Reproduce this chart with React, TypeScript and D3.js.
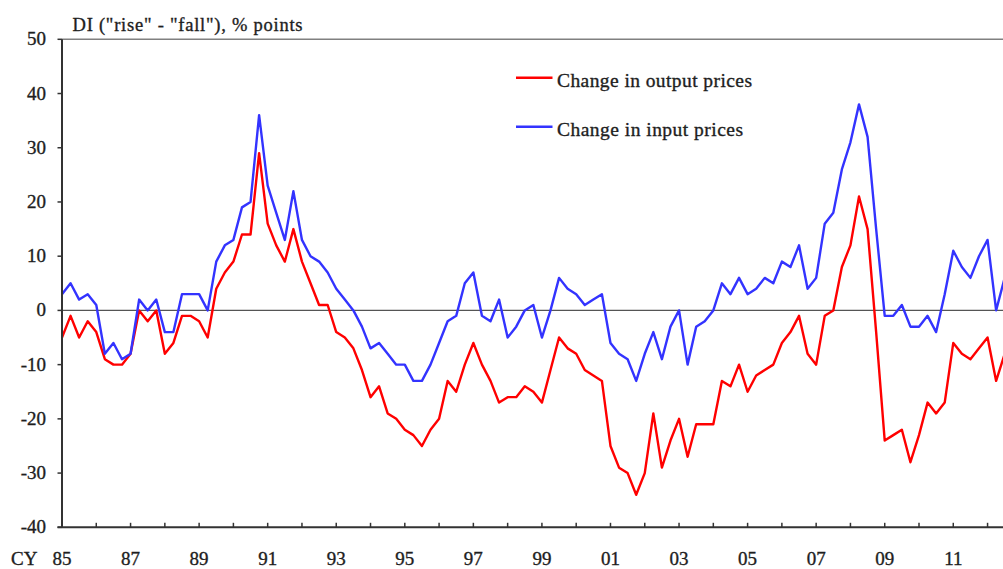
import React from "react";
import * as d3 from "d3";

// Quarterly DI values, starting 1985 Q1
const startYear = 1985;
const outputPrices: number[] = [
  -5, -1, -5, -2, -4, -9, -10, -10, -8, 0, -2, 0, -8, -6, -1, -1, -2, -5, 4, 7,
  9, 14, 14, 29, 16, 12, 9, 15, 9, 5, 1, 1, -4, -5, -7, -11, -16, -14, -19, -20,
  -22, -23, -25, -22, -20, -13, -15, -10, -6, -10, -13, -17, -16, -16, -14, -15, -17, -11, -5, -7,
  -8, -11, -12, -13, -25, -29, -30, -34, -30, -19, -29, -24, -20, -27, -21, -21, -21, -13, -14, -10,
  -15, -12, -11, -10, -6, -4, -1, -8, -10, -1, 0, 8, 12, 21, 15, -4, -24, -23, -22, -28,
  -23, -17, -19, -17, -6, -8, -9, -7, -5, -13, -8,
];
const inputPrices: number[] = [
  3, 5, 2, 3, 1, -8, -6, -9, -8, 2, 0, 2, -4, -4, 3, 3, 3, 0, 9, 12,
  13, 19, 20, 36, 23, 18, 13, 22, 13, 10, 9, 7, 4, 2, 0, -3, -7, -6, -8, -10,
  -10, -13, -13, -10, -6, -2, -1, 5, 7, -1, -2, 2, -5, -3, 0, 1, -5, 0, 6, 4,
  3, 1, 2, 3, -6, -8, -9, -13, -8, -4, -9, -3, 0, -10, -3, -2, 0, 5, 3, 6,
  3, 4, 6, 5, 9, 8, 12, 4, 6, 16, 18, 26, 31, 38, 32, 15, -1, -1, 1, -3,
  -3, -1, -4, 3, 11, 8, 6, 10, 13, 0, 6,
];
const yTicks: number[] = [50, 40, 30, 20, 10, 0, -10, -20, -30, -40];
const xLabelYears: number[] = [1985, 1987, 1989, 1991, 1993, 1995, 1997, 1999, 2001, 2003, 2005, 2007, 2009, 2011];
const seriesNames: string[] = ["Change in output prices", "Change in input prices"];
const seriesColors: string[] = ["#ff0000", "#3333ff"];
const titleText = 'DI ("rise" - "fall"), % points';

const W = 1003;
const H = 569;
const left = 62;
const top = 39.3;
const bottom = 527.3;
const quarterPx = 8.57;

export default function App() {
  const x = d3
    .scaleLinear()
    .domain([startYear, startYear + 110 / 4])
    .range([left, left + quarterPx * 110]);
  const y = d3.scaleLinear().domain([-40, 50]).range([bottom, top]);
  const tAt = (i: number) => startYear + i / 4;
  const line = d3
    .line<number>()
    .x((_, i) => x(tAt(i)))
    .y((d) => y(d));
  const years = d3.range(startYear, 2013);
  const font = '"Liberation Serif", "Times New Roman", serif';
  const textColor = "#1e1e1e";
  const series = [outputPrices, inputPrices];
  const textStroke = { stroke: textColor, strokeWidth: 0.35 };

  return (
    <svg
      width={W}
      height={H}
      style={{ position: "absolute", left: 0, top: 0, background: "#fff" }}
      fontFamily={font}
    >
      <defs>
        <clipPath id="plotClip">
          <rect x={left} y={top - 5} width={W - left} height={bottom - top + 10} />
        </clipPath>
      </defs>
      <rect x={0} y={0} width={W} height={H} fill="#fff" />
      {/* top border */}
      <line x1={left} x2={W} y1={top} y2={top} stroke="#808080" strokeWidth={1.5} />
      {/* zero line */}
      <line x1={left} x2={W} y1={y(0)} y2={y(0)} stroke="#555" strokeWidth={1.3} />
      {/* series */}
      <g clipPath="url(#plotClip)">
        {series.map((s, k) => (
          <path
            key={k}
            d={line(s) || ""}
            fill="none"
            stroke={seriesColors[k]}
            strokeWidth={2.4}
            strokeLinejoin="round"
          />
        ))}
      </g>
      {/* y axis */}
      <line x1={left} x2={left} y1={top} y2={bottom} stroke="#333" strokeWidth={2} />
      {yTicks.map((t) => (
        <g key={t}>
          <line x1={left - 4.5} x2={left} y1={y(t)} y2={y(t)} stroke="#333" strokeWidth={1.5} />
          <text
            x={46}
            y={y(t) + 6}
            textAnchor="end"
            fontSize={19}
            fill={textColor}
            {...textStroke}
          >
            {t}
          </text>
        </g>
      ))}
      {/* x axis */}
      <line x1={left - 4.5} x2={W} y1={bottom} y2={bottom} stroke="#333" strokeWidth={2} />
      {years.map((yr) => (
        <line
          key={yr}
          x1={x(yr)}
          x2={x(yr)}
          y1={bottom}
          y2={bottom - 4.5}
          stroke="#333"
          strokeWidth={1.5}
        />
      ))}
      {xLabelYears.map((yr) => (
        <text
          key={yr}
          x={x(yr)}
          y={565}
          textAnchor="middle"
          fontSize={19}
          fill={textColor}
          {...textStroke}
        >
          {String(yr % 100).padStart(2, "0")}
        </text>
      ))}
      <text x={11} y={565} fontSize={19} fill={textColor} {...textStroke}>
        CY
      </text>
      {/* title */}
      <text
        x={72.5}
        y={30.5}
        fontSize={18.5}
        fill={textColor}
        textLength={230}
        lengthAdjust="spacing"
        {...textStroke}
      >
        {titleText}
      </text>
      {/* legend */}
      {seriesNames.map((name, k) => (
        <g key={name}>
          <line
            x1={516}
            x2={552.5}
            y1={77.7 + k * 49}
            y2={77.7 + k * 49}
            stroke={seriesColors[k]}
            strokeWidth={2.4}
          />
          <text
            x={557}
            y={86.5 + k * 49}
            fontSize={19.5}
            fill={textColor}
            textLength={k === 0 ? 195 : 186}
            lengthAdjust="spacing"
            {...textStroke}
          >
            {name}
          </text>
        </g>
      ))}
    </svg>
  );
}
